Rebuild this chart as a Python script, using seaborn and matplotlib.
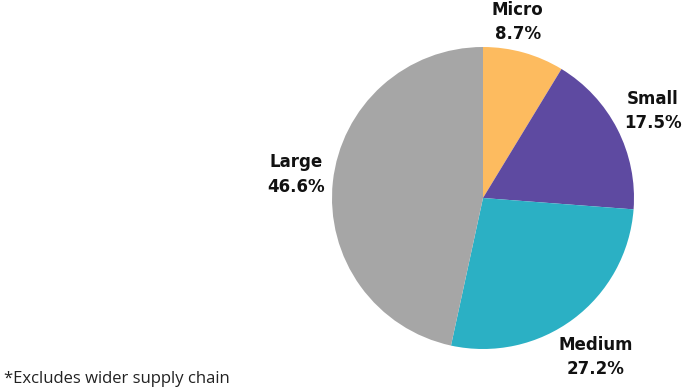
import numpy as np
import matplotlib
matplotlib.use("Agg")
import matplotlib.pyplot as plt
import seaborn as sns

categories = ["Micro", "Small", "Medium", "Large"]
shares = [8.7, 17.5, 27.2, 46.6]
colors = ["#FDBB5F", "#5E4AA1", "#2BB0C4", "#A6A6A6"]
footnote = "*Excludes wider supply chain"

sns.set_theme(style="white")
plt.rcParams['font.family'] = ['DejaVu Sans']

W, H = 683, 390
fig = plt.figure(figsize=(W / 100, H / 100), dpi=100)
cx, cy, R = 483, 198, 151
ax = fig.add_axes([(cx - R) / W, (H - cy - R) / H, 2 * R / W, 2 * R / H])
ax.pie(shares, colors=colors, startangle=90, counterclock=False, radius=1,
       wedgeprops=dict(linewidth=0))
ax.set_xlim(-1, 1)
ax.set_ylim(-1, 1)
ax.set_aspect("equal")
ax.axis("off")

# label placement (radius factor, angle offset in degrees)
label_pos = {"Micro": (1.19, 4.5), "Small": (1.265, 0.0), "Medium": (1.29, -1.5), "Large": (1.25, -1.0)}
cum = 0
for cat, v in zip(categories, shares):
    mid = 90 - (cum + v / 2) / 100 * 360
    cum += v
    r, off = label_pos[cat]
    a = np.deg2rad(mid + off)
    ax.text(r * np.cos(a), r * np.sin(a), f"{cat}\n{v:.1f}%", ha="center", va="center",
            fontsize=12, fontweight="bold", color="#111111", linespacing=1.45,
            clip_on=False)

fig.text(4 / W, 1 - 383 / H, footnote, ha="left", va="baseline", fontsize=12,
         color="#222222", family=["Open Sans", "DejaVu Sans"])

fig.savefig("out.png", dpi=100)
